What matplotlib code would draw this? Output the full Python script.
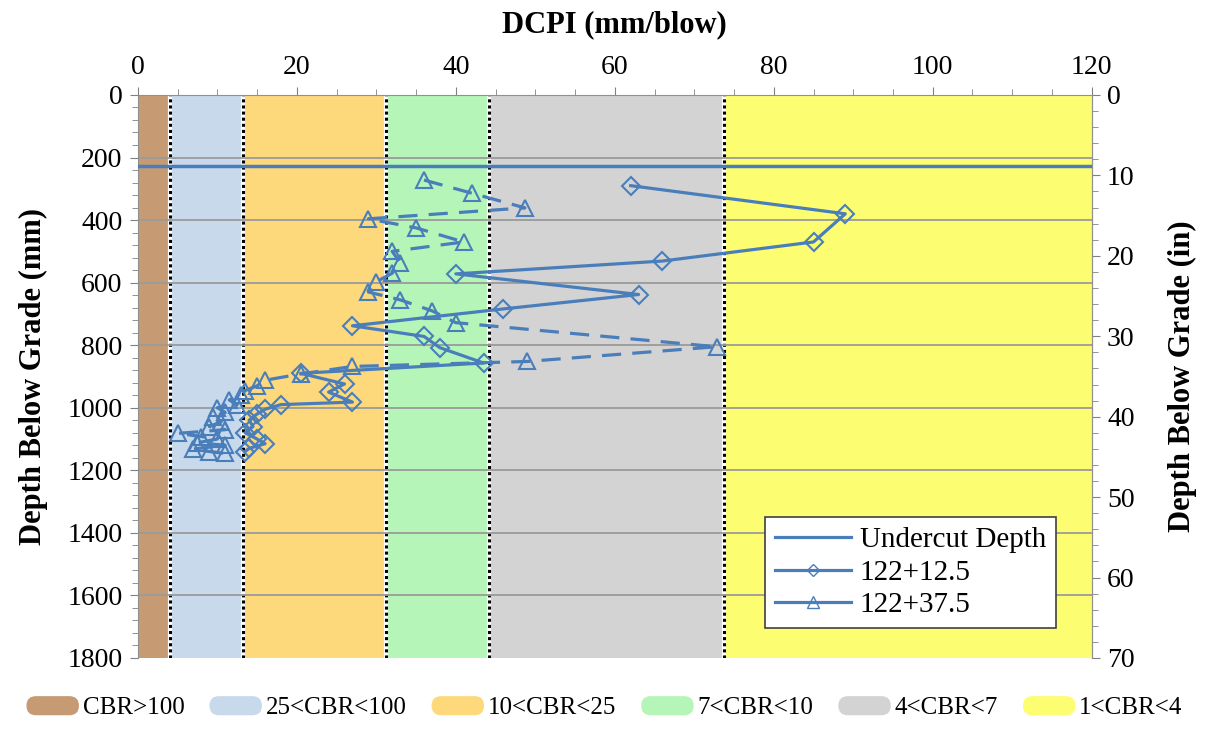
import numpy as np
import matplotlib
matplotlib.use("Agg")
import matplotlib.pyplot as plt
from matplotlib.patches import Patch, FancyBboxPatch
from matplotlib.lines import Line2D
from matplotlib.legend_handler import HandlerPatch

plt.rcParams['font.family'] = ['Liberation Serif', 'DejaVu Serif']

# CBR zones (DCPI limits, mm/blow)
zone_edges = [0, 4.0, 13.2, 31.2, 44.2, 73.8, 120]
zone_labels = ["CBR>100", "25<CBR<100", "10<CBR<25", "7<CBR<10", "4<CBR<7", "1<CBR<4"]
zone_colors = ["#C69B74", "#C8D9EC", "#FDD97C", "#B5F6B8", "#D3D3D3", "#FDFD72"]

undercut_depth = 228.6  # mm

# station 122+12.5 (diamonds)
dcpi_a = [62, 89, 85, 66, 40, 63, 46, 27, 36, 38, 43.5, 20.5, 26, 24, 27, 18,
          16, 15, 14, 14.5, 13.5, 15, 16, 14, 13.5]
depth_a = [290, 380, 470, 531, 572, 638, 684, 738, 772, 808, 857, 890, 924, 950, 982, 990,
           1005, 1020, 1040, 1060, 1080, 1100, 1115, 1130, 1140]

# station 122+37.5 (triangles)
dcpi_b = [36, 42, 48.7, 29, 35, 41, 32, 33, 32, 30, 29, 33, 37, 40, 72.8, 49, 27,
          20.5, 16, 15, 13.5, 13, 11.5, 12.5, 10, 11, 9.5, 10.5, 9, 11, 5, 8, 10,
          7.5, 11, 7, 9, 11]
depth_b = [272, 314, 361, 396, 425, 470, 500, 537, 570, 597, 630, 655, 690, 728, 805, 852, 868,
           892, 912, 930, 945, 960, 975, 990, 1000, 1015, 1030, 1045, 1060, 1070, 1082, 1092, 1100,
           1112, 1120, 1132, 1140, 1146]

blue = "#4A7EBB"
dash = (0, (6, 3.5))


def rounded_patch(legend, orig_handle, xdescent, ydescent, width, height, fontsize):
    return FancyBboxPatch((-xdescent, -ydescent), width, height,
                          boxstyle="round,pad=0,rounding_size=%f" % (height / 2))


fig = plt.figure(figsize=(12.09, 7.36), dpi=100)
ax = fig.add_axes([0.114, 0.106, 0.789, 0.765])

for i in range(len(zone_labels)):
    ax.axvspan(zone_edges[i], zone_edges[i + 1], color=zone_colors[i], zorder=0, lw=0)
for e in zone_edges[1:-1]:
    ax.axvline(e, color="white", lw=3, zorder=1)
    ax.axvline(e, color="black", lw=2.2, ls=(0, (1, 1)), zorder=1.1)

for d in range(200, 1800, 200):
    ax.axhline(d, color="#9A9A9A", lw=1.3, zorder=1.5)

ax.axhline(undercut_depth, color=blue, lw=2.5, zorder=3)
ax.plot(dcpi_a, depth_a, color=blue, lw=2.3, marker="D", ms=9, mfc="none",
        mec=blue, mew=1.5, zorder=4)
ax.plot(dcpi_b, depth_b, color=blue, lw=2.3, ls=dash, marker="^", ms=12,
        mfc="none", mec=blue, mew=1.5, zorder=4)

ax.set_xlim(0, 120)
ax.set_ylim(1800, 0)
ax.xaxis.tick_top()
ax.xaxis.set_label_position("top")
ax.set_xticks(np.arange(0, 121, 20))
ax.set_xticks(np.arange(0, 121, 5), minor=True)
ax.set_yticks(np.arange(0, 1801, 200))
ax.set_yticks(np.arange(0, 1801, 40), minor=True)
ax.tick_params(which="both", direction="out", color="#808080", labelsize=20, pad=5)
ax.tick_params(which="major", length=6)
ax.tick_params(which="minor", length=4)
ax.set_xlabel("DCPI (mm/blow)", fontsize=22, fontweight="bold", labelpad=16)
ax.set_ylabel("Depth Below Grade (mm)", fontsize=22, fontweight="bold", labelpad=14)
for s in ["left", "top", "right"]:
    ax.spines[s].set_color("#909090")
ax.spines["bottom"].set_visible(False)

ax2 = ax.twinx()
ax2.set_ylim(70, 0)
ax2.set_yticks(np.arange(0, 71, 10))
ax2.set_yticks(np.arange(0, 71, 2), minor=True)
ax2.tick_params(which="both", direction="out", color="#808080", labelsize=20, pad=5)
ax2.tick_params(which="major", length=6)
ax2.tick_params(which="minor", length=4)
ax2.set_ylabel("Depth Below Grade (in)", fontsize=22, fontweight="bold", labelpad=24)
for s in ax2.spines.values():
    s.set_visible(False)
ax2.spines["right"].set_visible(True)
ax2.spines["right"].set_color("#909090")

handles = [Line2D([], [], color=blue, lw=2.3),
           Line2D([], [], color=blue, lw=2.3, marker="D", ms=6, mfc="none", mec=blue),
           Line2D([], [], color=blue, lw=2.3, marker="^", ms=9, mfc="none", mec=blue)]
leg = ax2.legend(handles, ["Undercut Depth", "122+12.5", "122+37.5"], loc="lower right",
                 bbox_to_anchor=(0.978, 0.027), fontsize=21, frameon=True, fancybox=False,
                 edgecolor="#404040", framealpha=1, handlelength=2.6, labelspacing=0.2,
                 borderpad=0.35, handletextpad=0.3)
leg.get_frame().set_linewidth(1.2)

zone_handles = [Patch(facecolor=c, edgecolor="none") for c in zone_colors]
fig.legend(zone_handles, zone_labels, loc="lower center", bbox_to_anchor=(0.5, -0.008),
           ncol=6, frameon=False, fontsize=18, handlelength=2.1, handleheight=0.8,
           columnspacing=1.0, handletextpad=0.15,
           handler_map={Patch: HandlerPatch(patch_func=rounded_patch)})

fig.savefig("out.png", dpi=100)
